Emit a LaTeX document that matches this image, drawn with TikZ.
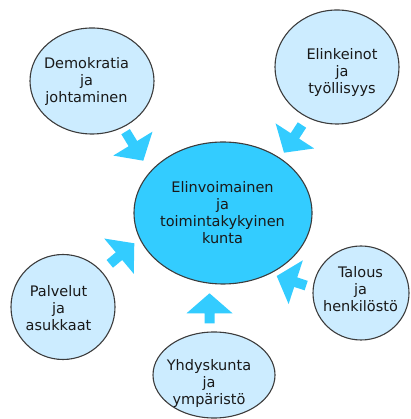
\documentclass[tikz,border=0pt]{standalone}
\usepackage{fontspec}
\setmainfont{DejaVu Sans}
\usetikzlibrary{shapes.geometric}
\definecolor{mainblue}{RGB}{51,204,255}
\definecolor{lightblue}{RGB}{204,236,255}
\definecolor{edgegray}{RGB}{60,60,60}
\definecolor{txt}{RGB}{25,25,25}
\newcommand{\fatArrow}[3]{%
  \begin{scope}[shift={(#1)},rotate=#2]
    \fill[mainblue] (0,0) -- (-20,23) -- (-20,5) -- (-20-#3,5) -- (-20-#3,-5) -- (-20,-5) -- (-20,-23) -- cycle;
  \end{scope}}
\begin{document}
\begin{tikzpicture}[x=1pt,y=1pt,
  bubble/.style={ellipse,draw=edgegray,line width=1.1pt,fill=lightblue,inner sep=0pt},
  hub/.style={ellipse,draw=edgegray,line width=1.1pt,fill=mainblue,inner sep=0pt},
  label/.style={align=center,text=txt,inner sep=0pt,font=\fontsize{14.5}{17}\selectfont}]
\useasboundingbox (0,0) rectangle (410,419);
% ellipses
\node[hub, minimum width=178pt, minimum height=142pt] (hubE) at (223,206) {};
\node[bubble, minimum width=124pt, minimum height=106pt] (demoE) at (92,338) {};
\node[bubble, minimum width=124pt, minimum height=114pt] (elinE) at (337,352) {};
\node[bubble, minimum width=104pt, minimum height=105pt] (palvE) at (63,112) {};
\node[bubble, minimum width=96pt, minimum height=94pt] (talE) at (361,126) {};
\node[bubble, minimum width=122pt, minimum height=86pt] (yhdE) at (214,44) {};
% texts
\node[label] (hubT) at (222.5,206) {Elinvoimainen\\ja\\toimintakykyinen\\kunta};
\node[label] (demoT) at (86.5,337.5) {Demokratia\\ja\\johtaminen};
\node[label] (elinT) at (342,346.5) {Elinkeinot\\ja\\työllisyys};
\node[label] (palvT) at (58.5,111) {Palvelut\\ja\\asukkaat};
\node[label] (talT) at (360.5,129.5) {Talous\\ja\\henkilöstö};
\node[label] (yhdT) at (209,35) {Yhdyskunta\\ja\\ympäristö};
% block arrows
\coordinate (tipA) at (143.3,258.3);
\coordinate (tipB) at (284,266.3);
\coordinate (tipC) at (134.3,175.7);
\coordinate (tipD) at (276.7,143);
\coordinate (tipE) at (209.5,125.7);
\fatArrow{tipA}{-58.6}{14}
\fatArrow{tipB}{237}{13}
\fatArrow{tipC}{40}{12}
\fatArrow{tipD}{162}{11}
\fatArrow{tipE}{90}{10}
\end{tikzpicture}
\end{document}
